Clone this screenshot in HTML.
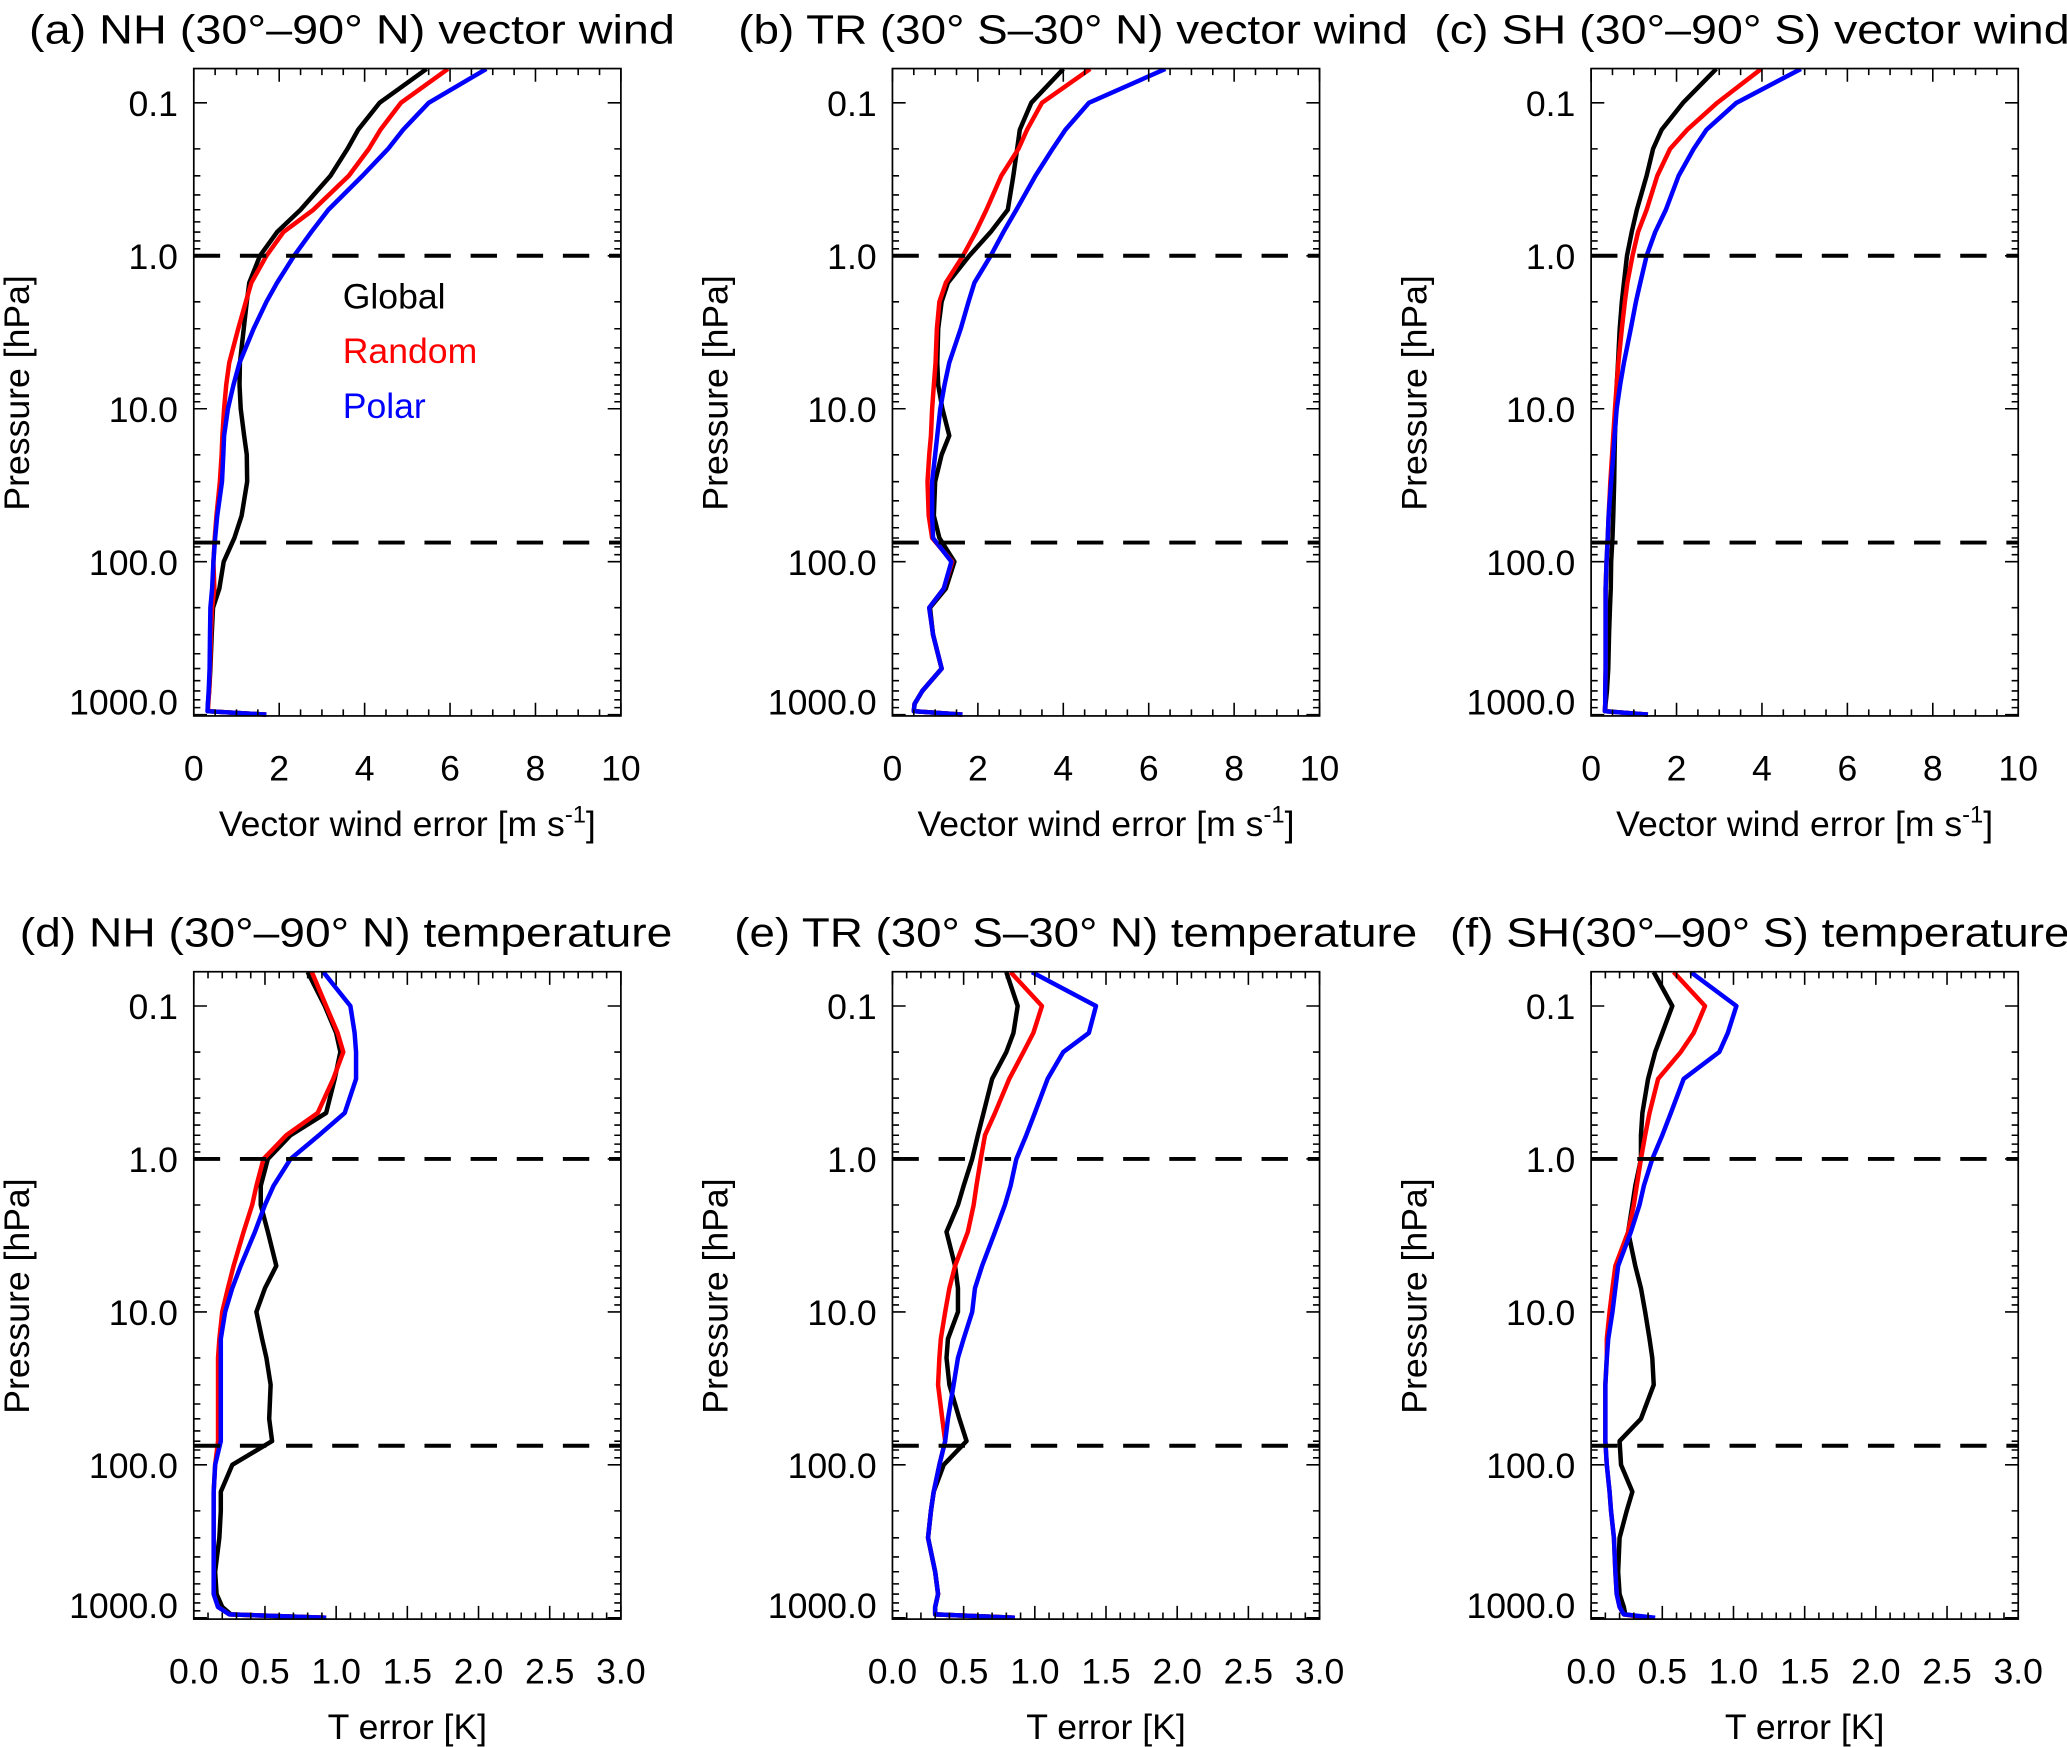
<!DOCTYPE html>
<html><head><meta charset="utf-8"><style>
html,body{margin:0;padding:0;background:#fff;}
svg{display:block;font-family:"Liberation Sans",Arial,sans-serif;}
</style></head><body>
<svg id="chart" width="2067" height="1747" viewBox="0 0 1568 1325" preserveAspectRatio="none" xmlns="http://www.w3.org/2000/svg">
<rect x="0" y="0" width="1568" height="1325" fill="#fff"/>
<defs id="defs"></defs>
</svg>
<script>
const levels = [0.06,0.1,0.15,0.2,0.3,0.5,0.7,1,1.5,2,3,5,7,10,15,20,30,50,70,100,150,200,300,500,700,850,950,1000];
const windTicks = [0,2,4,6,8,10];
const tempTicks = [0.0,0.5,1.0,1.5,2.0,2.5,3.0];
const pressureTicks = [0.1,1,10,100,1000];
const pressureTickLabels = ["0.1","1.0","10.0","100.0","1000.0"];
const dashedLevels = [1,75];
const seriesNames = ["Global","Random","Polar"];
const seriesColors = ["#000","#ff0000","#0000ff"];

const aGlobal = [5.45,4.35,3.85,3.6,3.2,2.5,1.95,1.55,1.3,1.24,1.17,1.08,1.07,1.1,1.18,1.24,1.25,1.12,0.95,0.7,0.6,0.45,0.42,0.39,0.36,0.33,0.33,1.7];
const aRandom = [5.95,4.85,4.37,4.1,3.63,2.8,2.1,1.7,1.35,1.22,1.04,0.83,0.76,0.71,0.67,0.65,0.61,0.53,0.49,0.46,0.48,0.43,0.40,0.38,0.36,0.34,0.33,1.7];
const aPolar  = [6.85,5.5,4.9,4.55,3.95,3.15,2.75,2.35,1.95,1.7,1.4,1.07,0.93,0.8,0.71,0.69,0.66,0.55,0.5,0.46,0.43,0.39,0.38,0.37,0.35,0.33,0.32,1.7];
const bGlobal = [4.0,3.25,2.98,2.92,2.83,2.7,2.3,1.8,1.3,1.15,1.07,1.05,1.07,1.17,1.33,1.15,1.0,0.97,1.1,1.45,1.25,0.88,0.95,1.15,0.7,0.52,0.5,1.64];
const bRandom = [4.63,3.5,3.15,2.95,2.55,2.2,1.95,1.65,1.25,1.1,1.04,1.01,0.97,0.93,0.9,0.86,0.82,0.85,0.93,1.4,1.2,0.86,0.95,1.15,0.7,0.52,0.5,1.64];
const bPolar  = [6.39,4.6,4.05,3.75,3.35,2.9,2.6,2.3,1.92,1.78,1.6,1.33,1.22,1.12,1.05,1.0,0.93,0.93,0.95,1.38,1.2,0.86,0.95,1.15,0.7,0.52,0.5,1.64];
const cGlobal = [2.93,2.15,1.65,1.45,1.3,1.07,0.95,0.84,0.77,0.72,0.67,0.63,0.6,0.58,0.56,0.55,0.54,0.52,0.5,0.47,0.46,0.44,0.42,0.4,0.37,0.34,0.33,1.33];
const cRandom = [3.98,2.95,2.25,1.85,1.55,1.3,1.1,0.97,0.85,0.79,0.72,0.64,0.6,0.56,0.52,0.49,0.45,0.41,0.39,0.36,0.34,0.34,0.34,0.34,0.33,0.33,0.32,1.33];
const cPolar  = [4.91,3.4,2.7,2.4,2.05,1.75,1.5,1.3,1.15,1.05,0.93,0.77,0.68,0.6,0.55,0.52,0.47,0.41,0.39,0.36,0.34,0.34,0.34,0.34,0.33,0.33,0.32,1.33];
const dGlobal = [0.8,0.92,1.0,1.03,0.99,0.93,0.68,0.52,0.47,0.47,0.52,0.58,0.5,0.44,0.48,0.51,0.54,0.53,0.55,0.27,0.19,0.19,0.18,0.15,0.16,0.2,0.26,0.93];
const dRandom = [0.83,0.93,1.01,1.05,0.98,0.87,0.65,0.49,0.44,0.41,0.35,0.28,0.24,0.2,0.18,0.17,0.17,0.17,0.17,0.15,0.14,0.14,0.14,0.14,0.14,0.17,0.25,0.93];
const dPolar  = [0.91,1.1,1.13,1.14,1.14,1.06,0.88,0.68,0.56,0.5,0.43,0.33,0.27,0.22,0.19,0.19,0.19,0.19,0.19,0.15,0.14,0.14,0.14,0.14,0.14,0.17,0.25,0.93];
const eGlobal = [0.8,0.88,0.85,0.8,0.7,0.64,0.6,0.56,0.5,0.46,0.38,0.44,0.46,0.46,0.39,0.38,0.4,0.47,0.52,0.36,0.29,0.27,0.25,0.3,0.32,0.3,0.3,0.86];
const eRandom = [0.83,1.05,0.99,0.92,0.82,0.72,0.65,0.62,0.59,0.57,0.53,0.44,0.4,0.37,0.34,0.33,0.32,0.35,0.37,0.33,0.29,0.27,0.25,0.3,0.32,0.3,0.3,0.86];
const ePolar  = [0.98,1.43,1.38,1.2,1.09,1.0,0.94,0.87,0.83,0.79,0.72,0.63,0.58,0.56,0.5,0.46,0.43,0.39,0.37,0.33,0.29,0.27,0.25,0.3,0.32,0.3,0.3,0.86];
const fGlobal = [0.44,0.57,0.5,0.45,0.4,0.36,0.35,0.35,0.31,0.29,0.26,0.31,0.35,0.38,0.41,0.43,0.44,0.35,0.2,0.21,0.29,0.25,0.2,0.19,0.2,0.23,0.24,0.4];
const fRandom = [0.58,0.8,0.72,0.63,0.47,0.41,0.38,0.35,0.32,0.3,0.26,0.17,0.15,0.13,0.11,0.11,0.1,0.1,0.1,0.11,0.13,0.14,0.16,0.17,0.18,0.2,0.23,0.4];
const fPolar  = [0.7,1.02,0.96,0.9,0.65,0.56,0.5,0.43,0.37,0.34,0.28,0.19,0.17,0.15,0.12,0.11,0.1,0.1,0.1,0.11,0.13,0.14,0.16,0.17,0.18,0.2,0.23,0.45];

const NS = "http://www.w3.org/2000/svg";
const svg = document.getElementById("chart");
const defs = document.getElementById("defs");
function mk(tag, attrs, parent){
  const e = document.createElementNS(NS, tag);
  for (const k in attrs) e.setAttribute(k, attrs[k]);
  (parent||svg).appendChild(e);
  return e;
}
const panels = [
  {id:"a", col:0, row:0, kind:"wind", title:"(a)  NH (30°–90° N) vector wind", tx:22, tw:490, data:[aGlobal,aRandom,aPolar]},
  {id:"b", col:1, row:0, kind:"wind", title:"(b) TR (30° S–30° N) vector wind", tx:560, tw:508, data:[bGlobal,bRandom,bPolar]},
  {id:"c", col:2, row:0, kind:"wind", title:"(c) SH (30°–90° S) vector wind", tx:1088, tw:482, data:[cGlobal,cRandom,cPolar]},
  {id:"d", col:0, row:1, kind:"temp", title:"(d) NH (30°–90° N) temperature", tx:15, tw:495, data:[dGlobal,dRandom,dPolar]},
  {id:"e", col:1, row:1, kind:"temp", title:"(e) TR (30° S–30° N) temperature", tx:557, tw:518, data:[eGlobal,eRandom,ePolar]},
  {id:"f", col:2, row:1, kind:"temp", title:"(f) SH(30°–90° S) temperature", tx:1100, tw:470, data:[fGlobal,fRandom,fPolar]}
];
const colX = [147,677,1207], PW = 324, rowDY = [0,685], FT = 52, FB = 543;

panels.forEach(p => {
  const x0 = colX[p.col], dy = rowDY[p.row];
  const xmax = p.kind === "wind" ? 10 : 3;
  const xs = v => x0 + v / xmax * PW;
  const ys = pr => dy + 78 + 116 * Math.log10(pr / 0.1);
  const g = mk("g", {});
  
  

  const cp = mk("clipPath", {id:"clip-" + p.id}, defs);
  mk("rect", {x:x0-10, y:dy+FT, width:PW+20, height:FB-FT+4}, cp);

  const t = mk("text", {x:p.tx, y:dy+33, "font-size":31, textLength:p.tw, lengthAdjust:"spacingAndGlyphs"}, g);
  
  
  t.textContent = p.title;

  const sg = mk("g", {"clip-path":"url(#clip-" + p.id + ")"}, g);
  
  
  p.data.forEach((arr, si) => {
    const pts = arr.map((v,i) => xs(v).toFixed(1) + "," + ys(levels[i]).toFixed(1)).join(" ");
    const pl = mk("polyline", {points:pts, fill:"none", stroke:seriesColors[si], "stroke-width":3.4, "stroke-linejoin":"round"}, sg);
    
    
  });

  dashedLevels.forEach(lv => {
    const ln = mk("line", {x1:x0, x2:x0+PW, y1:ys(lv), y2:ys(lv), stroke:"#000", "stroke-width":3, "stroke-dasharray":"20 15"}, g);
    
    
  });

  const fr = mk("rect", {x:x0, y:dy+FT, width:PW, height:FB-FT, fill:"none", stroke:"#000", "stroke-width":1.3}, g);
  
  

  let tp = "";
  for (let dec = 0.1; dec <= 1000; dec *= 10) {
    for (let m = 1; m <= 9; m++) {
      const pr = dec * m;
      if (pr > 1000.01) break;
      const y = ys(pr);
      const L = m === 1 ? 10 : 5;
      tp += `M${x0},${y}h${L}M${x0+PW},${y}h${-L}`;
    }
  }
  const step = p.kind === "wind" ? 0.5 : 0.1;
  const major = p.kind === "wind" ? 2 : 0.5;
  for (let v = 0; v <= xmax + 1e-6; v += step) {
    const isM = Math.abs(v/major - Math.round(v/major)) < 1e-6;
    const L = isM ? 10 : 5;
    tp += `M${xs(v)},${dy+FB}v${-L}M${xs(v)},${dy+FT}v${L}`;
  }
  const tk = mk("path", {d:tp, stroke:"#000", "stroke-width":1.2, fill:"none"}, g);
  
  

  pressureTicks.forEach((pr, i) => {
    const tl = mk("text", {x:x0-12, y:ys(pr) + (i===4 ? 0 : 10), "font-size":27, "text-anchor":"end"}, g);
    
    
    tl.textContent = pressureTickLabels[i];
  });
  const xt = p.kind === "wind" ? windTicks : tempTicks;
  xt.forEach(v => {
    const tl = mk("text", {x:xs(v), y:dy+592, "font-size":27, "text-anchor":"middle"}, g);
    
    
    tl.textContent = p.kind === "wind" ? String(v) : v.toFixed(1);
  });
  const xtl = mk("text", {x:x0+PW/2, y:dy+634, "font-size":27, "text-anchor":"middle"}, g);
  
  
  if (p.kind === "wind") {
    xtl.innerHTML = 'Vector wind error [m s<tspan dy="-10" font-size="18">-1</tspan><tspan dy="10">]</tspan>';
  } else {
    xtl.textContent = "T  error [K]";
  }
  const ytl = mk("text", {x:0, y:0, "font-size":27, "text-anchor":"middle", transform:`translate(${x0-125},${dy+298}) rotate(-90)`}, g);
  
  
  ytl.textContent = "Pressure [hPa]";

  if (p.id === "a") {
    seriesNames.forEach((n, i) => {
      const le = mk("text", {x:260, y:234 + i*41.5, "font-size":27, fill:seriesColors[i]}, g);
      
      
      le.textContent = n;
    });
  }
});
</script>
</body></html>
